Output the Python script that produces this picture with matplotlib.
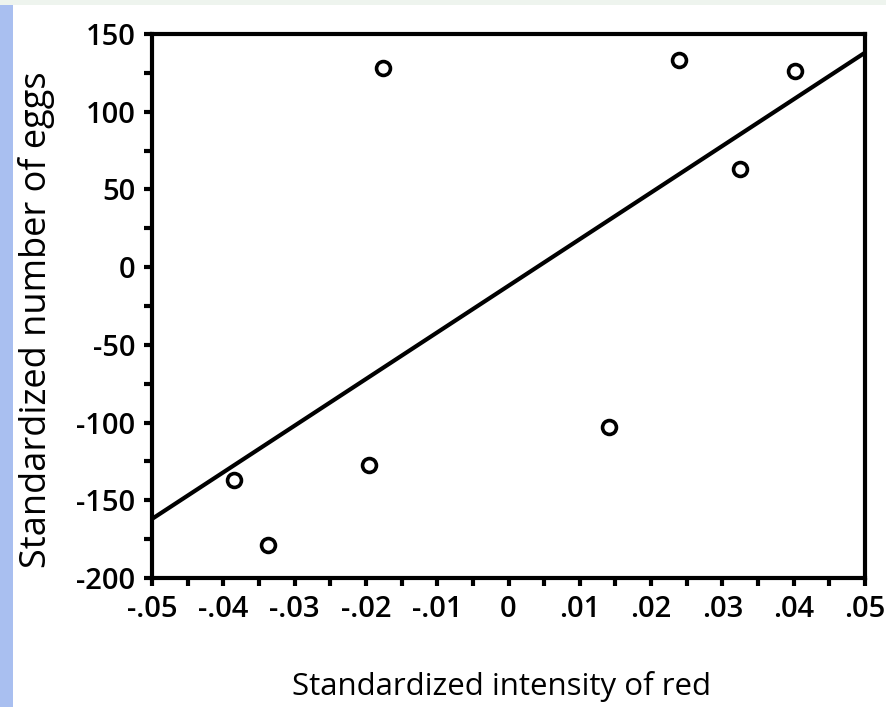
import matplotlib.pyplot as plt
from matplotlib.patches import Rectangle
from matplotlib.ticker import MultipleLocator

# data
red = [-0.0176, 0.0239, 0.0402, 0.0325, 0.0141, -0.0196, -0.0385, -0.0337]
eggs = [128, 133, 126, 63, -103, -127, -137, -179]
fit_x = [-0.05, 0.05]
fit_y = [-162, 138]

xticks = [-0.05, -0.04, -0.03, -0.02, -0.01, 0, 0.01, 0.02, 0.03, 0.04, 0.05]
xlabels = ['-.05', '-.04', '-.03', '-.02', '-.01', '0', '.01', '.02', '.03', '.04', '.05']
yticks = [-200, -150, -100, -50, 0, 50, 100, 150]

plt.rcParams['font.family'] = ['Open Sans', 'DejaVu Sans']
plt.rcParams['axes.unicode_minus'] = False

fig = plt.figure(figsize=(8.86, 7.07), dpi=100)
# scanned slide border: blue strip on the left, light strip on top
fig.patches.append(Rectangle((0, 0), 13 / 886, 1, transform=fig.transFigure,
                             facecolor='#a9bff0', edgecolor='none', zorder=0))
fig.patches.append(Rectangle((0, 1 - 5 / 707), 1, 5 / 707, transform=fig.transFigure,
                             facecolor='#eef4ee', edgecolor='none', zorder=0))

ax = fig.add_axes([152 / 886, 1 - 578 / 707, (865 - 152) / 886, (578 - 34) / 707])

ax.plot(fit_x, fit_y, color='black', lw=3, solid_capstyle='butt')
ax.plot(red, eggs, 'o', ms=10, mfc='white', mec='black', mew=2.6, ls='none')

ax.set_xlim(-0.05, 0.05)
ax.set_ylim(-200, 150)
ax.set_xticks(xticks)
ax.set_xticklabels(xlabels)
ax.set_yticks(yticks)
ax.xaxis.set_minor_locator(MultipleLocator(0.005))
ax.yaxis.set_minor_locator(MultipleLocator(25))

for s in ax.spines.values():
    s.set_linewidth(3)
ax.tick_params(which='both', direction='out', width=3, top=False, right=False)
ax.tick_params(which='major', length=6, labelsize=21, pad=6)
ax.tick_params(which='minor', length=6)
for lab in ax.get_xticklabels() + ax.get_yticklabels():
    lab.set_fontweight('semibold')

fig.text(502 / 886, 1 - 686 / 707, 'Standardized intensity of red',
         ha='center', va='center', fontsize=22.5)
fig.text(37 / 886, 1 - 320 / 707, 'Standardized number of eggs',
         ha='center', va='center', rotation=90, fontsize=26)

fig.savefig('out.png', dpi=100)
